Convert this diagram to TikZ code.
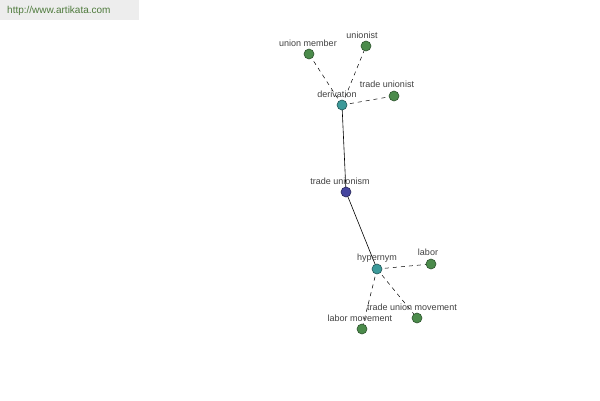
\documentclass[tikz,border=0pt]{standalone}
\usepackage{fontspec}
\setmainfont{Liberation Sans}
\usepackage{xcolor}
\definecolor{leafGreen}{HTML}{4B8B4B}
\definecolor{relTeal}{HTML}{3C9A9A}
\definecolor{rootBlue}{HTML}{4646A0}
\definecolor{siteGreen}{HTML}{4E7A3C}
\usetikzlibrary{positioning, backgrounds}

\begin{document}
\begin{tikzpicture}[
    x=1pt, y=-1pt,
    font=\fontsize{9}{10}\selectfont,
    leafNode/.style={circle, draw=leafGreen!60!black, fill=leafGreen, minimum size=10pt, inner sep=0pt, line width=0.6pt},
    relNode/.style={circle, draw=relTeal!55!black, fill=relTeal, minimum size=10pt, inner sep=0pt, line width=0.6pt},
    rootNode/.style={circle, draw=rootBlue!55!black, fill=rootBlue, minimum size=10pt, inner sep=0pt, line width=0.6pt},
    termLabel/.style={text=black!75, inner sep=0pt},
    strongLink/.style={draw=black, line width=0.6pt},
    weakLink/.style={draw=black, line width=0.5pt, dash pattern=on 4pt off 4pt}
]
\useasboundingbox (0,0) rectangle (600,400);

% Watermark
\fill[black!7] (0,0) rectangle (139,20);
\node[text=siteGreen, anchor=west, inner sep=0pt, font=\fontsize{10}{12}\selectfont] (site) at (7,11) {http://www.artikata.com};

% Nodes
\node[rootNode] (tradeUnionism) at (346,192) {};
\node[relNode] (derivation) at (342,105) {};
\node[relNode] (hypernym) at (377,269) {};
\node[leafNode] (unionMember) at (309,54) {};
\node[leafNode] (unionist) at (366,46) {};
\node[leafNode] (tradeUnionist) at (394,96) {};
\node[leafNode] (labor) at (431,264) {};
\node[leafNode] (tradeUnionMovement) at (417,318) {};
\node[leafNode] (laborMovement) at (362,329) {};

% Links (behind the nodes)
\begin{pgfonlayer}{background}
\path[strongLink] (tradeUnionism.center) -- (derivation.center);
\path[strongLink] (tradeUnionism.center) -- (hypernym.center);
\path[weakLink] (derivation.center) -- (unionMember.center);
\path[weakLink] (derivation.center) -- (unionist.center);
\path[weakLink] (derivation.center) -- (tradeUnionist.center);
\path[weakLink] (hypernym.center) -- (labor.center);
\path[weakLink] (hypernym.center) -- (tradeUnionMovement.center);
\path[weakLink] (hypernym.center) -- (laborMovement.center);
\end{pgfonlayer}

% Labels
\node[termLabel] (tradeUnionismLbl) at (340,181) {trade unionism};
\node[termLabel] (derivationLbl) at (337,94) {derivation};
\node[termLabel] (hypernymLbl) at (377,258) {hypernym};
\node[termLabel] (unionMemberLbl) at (308,43) {union member};
\node[termLabel] (unionistLbl) at (362,35) {unionist};
\node[termLabel] (tradeUnionistLbl) at (387,84) {trade unionist};
\node[termLabel] (laborLbl) at (428,252) {labor};
\node[termLabel] (tradeUnionMovementLbl) at (412,307) {trade union movement};
\node[termLabel] (laborMovementLbl) at (360,318) {labor movement};

\end{tikzpicture}
\end{document}
